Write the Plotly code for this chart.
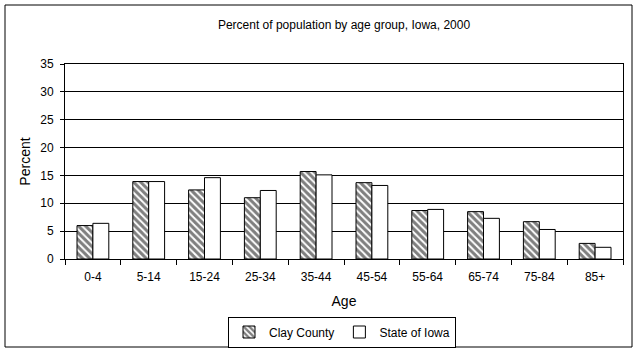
import plotly.graph_objects as go

categories = ["0-4", "5-14", "15-24", "25-34", "35-44", "45-54", "55-64", "65-74", "75-84", "85+"]
clay_county = [6.0, 13.9, 12.4, 11.0, 15.7, 13.7, 8.7, 8.5, 6.7, 2.8]
state_of_iowa = [6.4, 13.9, 14.6, 12.3, 15.1, 13.2, 8.9, 7.3, 5.3, 2.1]

FONT = "Liberation Sans, Arial, sans-serif"

fig = go.Figure()
fig.add_trace(go.Bar(
    x=categories, y=clay_county, name="Clay County",
    marker=dict(color="white", line=dict(color="black", width=1),
                pattern=dict(shape="\\", fgcolor="black", bgcolor="white", size=5, solidity=0.6)),
))
fig.add_trace(go.Bar(
    x=categories, y=state_of_iowa, name="State of Iowa",
    marker=dict(color="white", line=dict(color="black", width=1)),
))

W, H = 639, 358
L, R, T, B = 65, 16, 64, 99
pw, ph = W - L - R, H - T - B

def px_x(x):
    return (x - L) / pw

def px_y(y):
    return (H - B - y) / ph

fig.update_layout(
    width=W, height=H,
    margin=dict(l=L, r=R, t=T, b=B, autoexpand=False),
    paper_bgcolor="white", plot_bgcolor="white",
    font=dict(family=FONT, size=12, color="black"),
    barmode="group", bargap=0.43, bargroupgap=0,
    title=dict(text="Percent of population by age group, Iowa, 2000",
               x=0.5 * (L + W - R) / W, xanchor="center", y=1 - 25 / H, yanchor="middle",
               font=dict(family=FONT, size=12, color="black")),
    legend=dict(orientation="h", xref="container", yref="container",
                x=342 / W, y=1 - 332 / H, xanchor="center", yanchor="middle",
                bordercolor="black", borderwidth=1, bgcolor="white", itemwidth=30,
                font=dict(family=FONT, size=12, color="black"), traceorder="normal"),
    showlegend=True,
)
fig.update_xaxes(
    type="category", tickson="boundaries", ticks="outside", ticklen=5, tickcolor="black",
    showline=True, linecolor="black", linewidth=1, mirror=True, showgrid=False,
    ticklabelstandoff=7,
    title=dict(text="Age", standoff=12), tickfont=dict(size=12), automargin=False,
)
fig.update_yaxes(
    range=[0, 35], dtick=5, ticks="outside", ticklen=4, tickcolor="black",
    showline=True, linecolor="black", linewidth=1, mirror=True,
    showgrid=True, gridcolor="black", gridwidth=1, zeroline=False,
    ticklabelstandoff=4,
    title=dict(text="Percent", standoff=6), automargin=False,
)
fig.add_shape(type="rect", xref="paper", yref="paper",
              x0=px_x(5), x1=px_x(632), y0=px_y(347), y1=px_y(5),
              line=dict(color="black", width=1), fillcolor="rgba(0,0,0,0)", layer="below")

fig.write_html("out.html", config={"displayModeBar": False},
               post_script="document.body.style.margin='0';document.body.style.overflow='hidden';")
